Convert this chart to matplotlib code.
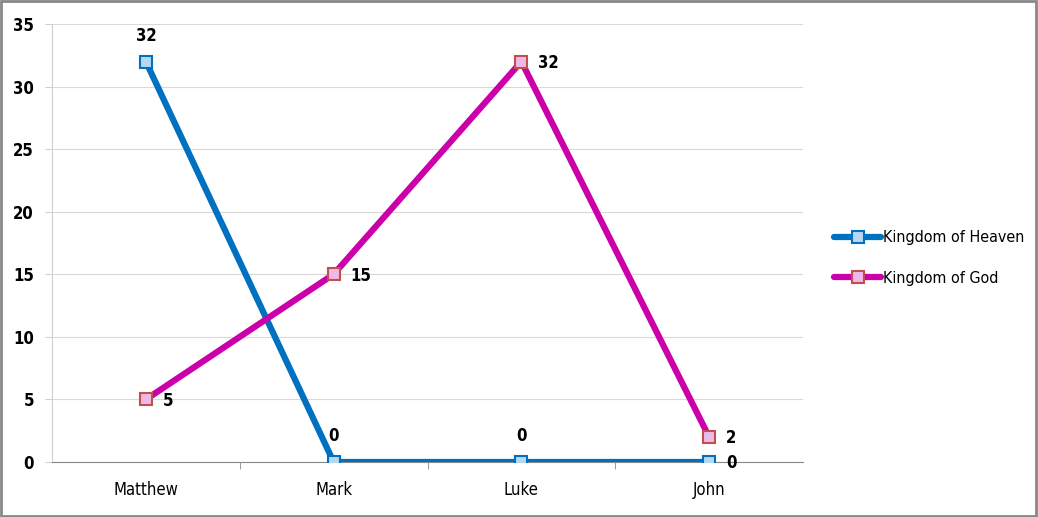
import matplotlib.pyplot as plt
from matplotlib.patches import Rectangle

gospels = ['Matthew', 'Mark', 'Luke', 'John']
heaven = [32, 0, 0, 0]
god = [5, 15, 32, 2]
yticks = [0, 5, 10, 15, 20, 25, 30, 35]

blue = '#0070c0'
magenta = '#cc00aa'
font = dict(family='DejaVu Sans', stretch='condensed')

fig = plt.figure(figsize=(10.38, 5.17), dpi=100)
ax = fig.add_axes([52/1038, 1-462/517, (803-52)/1038, (462-24)/517])

x = list(range(len(gospels)))
ax.plot(x, heaven, color=blue, lw=4.5, marker='s', ms=8, mfc='#b8d8f0',
        mec=blue, mew=1.5, label='Kingdom of Heaven', zorder=3,
        solid_capstyle='round')
ax.plot(x, god, color=magenta, lw=4.5, marker='s', ms=8, mfc='#f0b8e8',
        mec='#c0504d', mew=1.5, label='Kingdom of God', zorder=3,
        solid_capstyle='round')

# data labels
for i, v in enumerate(heaven):
    if i < 3:
        ax.annotate(str(v), (i, v), xytext=(0, 12), textcoords='offset points',
                    ha='center', va='bottom', fontsize=12, fontweight='bold', **font)
    else:
        ax.annotate(str(v), (i, v), xytext=(12, -1), textcoords='offset points',
                    ha='left', va='center', fontsize=12, fontweight='bold', **font)
for i, v in enumerate(god):
    ax.annotate(str(v), (i, v), xytext=(12, -1), textcoords='offset points',
                ha='left', va='center', fontsize=12, fontweight='bold', **font)

ax.set_xlim(-0.5, 3.5)
ax.set_ylim(0, 35)
ax.set_yticks(yticks)
ax.set_yticklabels([str(t) for t in yticks], fontsize=12, fontweight='bold', **font)
ax.set_xticks(x)
ax.set_xticklabels(gospels, fontsize=12, **font)
ax.set_xticks([0.5, 1.5, 2.5], minor=True)
ax.tick_params(axis='x', which='major', length=0, pad=14)
ax.tick_params(axis='x', which='minor', length=5, color='#888888')
ax.tick_params(axis='y', length=5, color='#d0d0d0', pad=8)
ax.grid(axis='y', color='#d9d9d9', lw=0.8)
ax.set_axisbelow(True)
for s in ['top', 'right']:
    ax.spines[s].set_visible(False)
ax.spines['left'].set_color('#d0d0d0')
ax.spines['bottom'].set_color('#888888')

leg = fig.legend(loc='center left', bbox_to_anchor=(820/1038, 1-258/517),
                 frameon=False, handlelength=2.9, handletextpad=0.15,
                 labelspacing=1.6, prop=dict(size=11.5, **font))

fig.patches.append(Rectangle((0.001, 0.002), 0.997, 0.996, transform=fig.transFigure,
                             fill=False, edgecolor='#888888', lw=2))

fig.savefig('out.png', dpi=100)
